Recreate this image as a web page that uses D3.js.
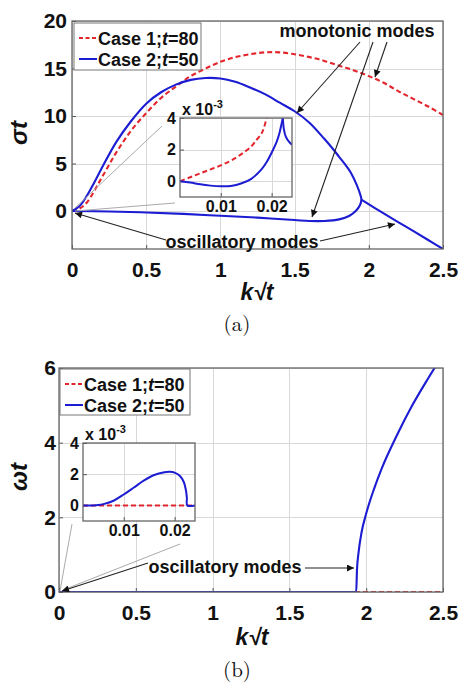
<!DOCTYPE html>
<html>
<head>
    <meta charset="utf-8">
    <title>Growth rate and frequency vs k sqrt(t)</title>
    <script src="https://d3js.org/d3.v7.min.js"></script>
    <style>
        body { margin: 0; padding: 0; background: #fff; }
        text { font-family: Arial, "Liberation Sans", sans-serif; font-weight: bold; fill: #111; }
        .grid line { stroke: #d8d8d8; stroke-width: 1; shape-rendering: crispEdges; }
        .grid path { stroke-width: 0; }
        .ticks path { stroke-width: 0; }
        .ticks line { stroke: #555; }
    </style>
</head>
<body>
<svg id="svg" width="463" height="684"></svg>
<script>
// Tick values
const kTicks = [0, 0.5, 1, 1.5, 2, 2.5];
const sigmaTicks = [0, 5, 10, 15, 20];
const omegaTicks = [0, 2, 4, 6];
const insetKTicks = [0.01, 0.02];
const insetTicks = [0, 2, 4];

// Legend
const legendLabels = [["Case 1;", "t", "=80"], ["Case 2;", "t", "=50"]];

// (a) growth rate sigma*t vs k*sqrt(t)
const case1Sigma = [[0,0],[0.05,0.25],[0.1,0.9],[0.2,3.5],[0.3,6.2],[0.4,8.5],[0.5,10.3],[0.6,11.9],
    [0.7,13.1],[0.8,14.2],[0.9,15.0],[1.0,15.7],[1.1,16.2],[1.2,16.5],[1.3,16.7],[1.4,16.7],[1.5,16.5],
    [1.6,16.2],[1.7,15.8],[1.8,15.3],[1.9,14.8],[2.0,14.2],[2.1,13.5],[2.2,12.6],[2.3,11.8],[2.4,11.0],[2.5,10.1]];
// upper branch, turning at k~1.95 back into the lower branch
const case2SigmaLoop = [[0,0],[0.05,0.5],[0.1,1.6],[0.15,3.0],[0.2,4.5],[0.3,7.3],[0.4,9.5],[0.5,11.3],
    [0.6,12.5],[0.7,13.3],[0.8,13.8],[0.9,14.0],[1.0,13.95],[1.1,13.6],[1.2,13.0],[1.3,12.3],[1.4,11.4],
    [1.5,10.5],[1.6,9.3],[1.7,7.6],[1.76,6.5],[1.8,5.7],[1.85,4.7],[1.88,4.0],[1.92,2.7],[1.945,1.6],
    [1.95,1.2],[1.94,0.6],[1.915,0.05],[1.87,-0.5],[1.8,-0.88],[1.7,-1.05],[1.6,-1.05],[1.5,-0.95],
    [1.25,-0.7],[1.0,-0.5],[0.75,-0.3],[0.5,-0.15],[0.25,-0.05],[0,0]];
const case2SigmaOsc = [[1.95,1.2],[2.1,-0.25],[2.25,-1.65],[2.4,-3.05],[2.5,-4.0]];

// (a) inset, sigma*t x 1e-3
const case1SigmaInset = [[0.002,0],[0.004,0.25],[0.006,0.5],[0.008,0.75],[0.010,1.0],[0.012,1.3],
    [0.014,1.7],[0.016,2.2],[0.017,2.6],[0.018,3.0],[0.0185,3.4],[0.019,4.0],[0.0192,4.4]];
const case2SigmaInsetLeft = [[0.002,0],[0.004,-0.08],[0.006,-0.2],[0.008,-0.28],[0.010,-0.32],[0.012,-0.3],
    [0.014,-0.15],[0.016,0.15],[0.018,0.75],[0.019,1.2],[0.020,1.8],[0.021,2.5],[0.0215,3.0],[0.022,3.7],[0.0222,4.0]];
const case2SigmaInsetRight = [[0.0222,4.0],[0.0224,3.3],[0.0228,2.8],[0.0234,2.5],[0.024,2.3]];

// (b) frequency omega*t vs k*sqrt(t)
const case1Omega = [[0,0],[2.5,0]];
const case2Omega = [[0,0],[1.935,0],[1.94,0.6],[1.95,1.05],[1.97,1.6],[2.0,2.1],[2.05,2.75],[2.1,3.3],
    [2.2,4.2],[2.3,5.0],[2.4,5.7],[2.46,6.1]];

// (b) inset, omega*t x 1e-3
const case1OmegaInset = [[0.002,0],[0.024,0]];
const case2OmegaInset = [[0.002,0],[0.004,0],[0.005,0.02],[0.006,0.08],[0.008,0.3],[0.010,0.7],[0.012,1.15],
    [0.014,1.6],[0.016,1.95],[0.018,2.12],[0.019,2.15],[0.020,2.1],[0.021,1.9],[0.0218,1.5],[0.0222,1.0],
    [0.0224,0.5],[0.0225,0],[0.024,0]];

const RED = "#e3262e", BLUE = "#1c1cd2";
const svg = d3.select("#svg");

svg.append("defs").append("marker")
    .attr("id", "arrow").attr("viewBox", "0 0 10 10").attr("refX", 10).attr("refY", 5)
    .attr("markerWidth", 9).attr("markerHeight", 7).attr("orient", "auto")
    .attr("markerUnits", "userSpaceOnUse")
    .append("path").attr("d", "M0,0L10,5L0,10z").attr("fill", "#111");

let clipId = 0;

function axesBox(box, xDomain, yDomain, xTicks, yTicks, fontSize, labelPad) {
    const x = d3.scaleLinear().domain(xDomain).range([box.x0, box.x1]);
    const y = d3.scaleLinear().domain(yDomain).range([box.y1, box.y0]);
    const g = svg.append("g");

    g.append("rect").attr("x", box.x0).attr("y", box.y0)
        .attr("width", box.x1 - box.x0).attr("height", box.y1 - box.y0).attr("fill", "#fff");

    // gridlines
    g.append("g").attr("class", "grid").attr("transform", `translate(0,${box.y1})`)
        .call(d3.axisBottom(x).tickValues(xTicks).tickSize(-(box.y1 - box.y0)).tickFormat(""));
    g.append("g").attr("class", "grid").attr("transform", `translate(${box.x0},0)`)
        .call(d3.axisLeft(y).tickValues(yTicks).tickSize(-(box.x1 - box.x0)).tickFormat(""));

    // tick marks + labels
    g.append("g").attr("class", "ticks").attr("transform", `translate(0,${box.y1})`)
        .call(d3.axisBottom(x).tickValues(xTicks).tickSize(-4).tickPadding(labelPad.x).tickFormat(d3.format("")))
        .selectAll("text").style("font-size", fontSize + "px").attr("fill", "#111");
    g.append("g").attr("class", "ticks").attr("transform", `translate(${box.x0},0)`)
        .call(d3.axisLeft(y).tickValues(yTicks).tickSize(-4).tickPadding(labelPad.y).tickFormat(d3.format("")))
        .selectAll("text").style("font-size", fontSize + "px").attr("fill", "#111");
    g.selectAll(".ticks text").style("font-family", "Arial, 'Liberation Sans', sans-serif").style("font-weight", "bold");

    const id = "clip" + (clipId++);
    svg.append("clipPath").attr("id", id).append("rect")
        .attr("x", box.x0).attr("y", box.y0).attr("width", box.x1 - box.x0).attr("height", box.y1 - box.y0);
    const plot = g.append("g").attr("clip-path", `url(#${id})`);

    const frame = () => g.append("rect").attr("x", box.x0).attr("y", box.y0)
        .attr("width", box.x1 - box.x0).attr("height", box.y1 - box.y0)
        .attr("fill", "none").attr("stroke", "#666").attr("stroke-width", 1.3);
    return { x, y, g, plot, frame };
}

function curve(ax, data, color, dashed, width, shape) {
    const line = d3.line().x(d => ax.x(d[0])).y(d => ax.y(d[1]))
        .curve(shape || d3.curveCatmullRom.alpha(0.5));
    ax.plot.append("path").datum(data)
        .attr("fill", "none").attr("stroke", color).attr("stroke-width", width || 2.1)
        .attr("stroke-dasharray", dashed ? "5,3" : null)
        .attr("stroke-linejoin", "round").attr("d", line);
}

function legend(x0, y0, w, h, rows) {
    const g = svg.append("g");
    g.append("rect").attr("x", x0).attr("y", y0).attr("width", w).attr("height", h)
        .attr("fill", "#fff").attr("stroke", "#777").attr("stroke-width", 1);
    rows.forEach((r, i) => {
        const yy = y0 + 15 + i * 21;
        g.append("line").attr("x1", x0 + 5).attr("x2", x0 + 23).attr("y1", yy).attr("y2", yy)
            .attr("stroke", i === 0 ? RED : BLUE).attr("stroke-width", 2)
            .attr("stroke-dasharray", i === 0 ? "4,2.5" : null);
        const t = g.append("text").attr("x", x0 + 24).attr("y", yy + 6.5).style("font-size", "18px");
        t.append("tspan").text(legendLabels[i][0]);
        t.append("tspan").style("font-style", "italic").text(legendLabels[i][1]);
        t.append("tspan").text(legendLabels[i][2]);
    });
}

function arrow(x1, y1, x2, y2, color, width) {
    svg.append("line").attr("x1", x1).attr("y1", y1).attr("x2", x2).attr("y2", y2)
        .attr("stroke", color || "#222").attr("stroke-width", width || 1.1)
        .attr("marker-end", color ? null : "url(#arrow)");
}

function label(x, y, txt, size, opts) {
    opts = opts || {};
    return svg.append("text").attr("x", x).attr("y", y)
        .attr("text-anchor", opts.anchor || "middle")
        .attr("transform", opts.rotate ? `rotate(-90,${x},${y})` : null)
        .style("font-size", size + "px")
        .style("font-style", opts.italic ? "italic" : null)
        .style("font-weight", opts.normal ? "normal" : null)
        .style("font-family", opts.serif ? "'Latin Modern Roman','DejaVu Serif',serif" : null)
        .text(txt);
}

function scaleNote(x, y) {
    const t = svg.append("text").attr("x", x).attr("y", y).style("font-size", "16px");
    t.append("tspan").text("x 10");
    t.append("tspan").attr("dy", -7).style("font-size", "11px").text("-3");
}

// ---------- panel (a) ----------
const a = axesBox({ x0: 72, x1: 443, y0: 21, y1: 249 }, [0, 2.5], [-4, 20], kTicks, sigmaTicks, 21, { x: 13, y: 5 });
curve(a, case1Sigma, RED, true);
curve(a, case2SigmaLoop, BLUE, false);
curve(a, case2SigmaOsc, BLUE, false);
a.frame();
legend(74, 23, 127, 47, legendLabels);

// leader lines from origin to inset
arrow(75, 208, 162, 126, "#aaa", 1);
arrow(75, 211, 175, 203, "#aaa", 1);

const ai = axesBox({ x0: 180, x1: 292, y0: 118, y1: 197 }, [0.002, 0.024], [-1, 4], insetKTicks, insetTicks, 16, { x: 4, y: 4 });
curve(ai, case1SigmaInset, RED, true, 2);
curve(ai, case2SigmaInsetLeft, BLUE, false, 2);
curve(ai, case2SigmaInsetRight, BLUE, false, 2);
ai.frame();
scaleNote(182, 115);

label(357, 37, "monotonic modes", 18);
arrow(360, 42, 297, 113);
arrow(373, 42, 312, 217);
arrow(387, 42, 375, 77);
label(242, 248, "oscillatory modes", 18);
arrow(166, 240, 75, 213);
arrow(320, 241, 395, 224);

label(27, 133, "σt", 24, { rotate: true, italic: true });
label(257, 300, "k√t", 23, { italic: true });
label(237, 331, "(a)", 21, { normal: true, serif: true });

// ---------- panel (b) ----------
const b = axesBox({ x0: 59, x1: 443, y0: 368, y1: 592 }, [0, 2.5], [0, 6], kTicks, omegaTicks, 21, { x: 13, y: 3 });
curve(b, case1Omega, RED, true);
curve(b, case2Omega, BLUE, false, 2.1, d3.curveMonotoneX);
b.frame();
legend(60, 369, 130, 46, legendLabels);

arrow(60, 591, 72, 524, "#aaa", 1);
arrow(63, 590, 180, 544, "#aaa", 1);

const bi = axesBox({ x0: 83, x1: 195, y0: 443, y1: 521 }, [0.002, 0.024], [-1, 4], insetKTicks, insetTicks, 16, { x: 4, y: 4 });
curve(bi, case1OmegaInset, RED, true, 2);
curve(bi, case2OmegaInset, BLUE, false, 2);
bi.frame();
scaleNote(85, 440);

label(225, 573, "oscillatory modes", 18);
arrow(305, 568, 354, 568);
arrow(148, 563, 62, 591);

label(27, 477, "ωt", 24, { rotate: true, italic: true });
label(252, 645, "k√t", 23, { italic: true });
label(237, 677, "(b)", 21, { normal: true, serif: true });
</script>
</body>
</html>
